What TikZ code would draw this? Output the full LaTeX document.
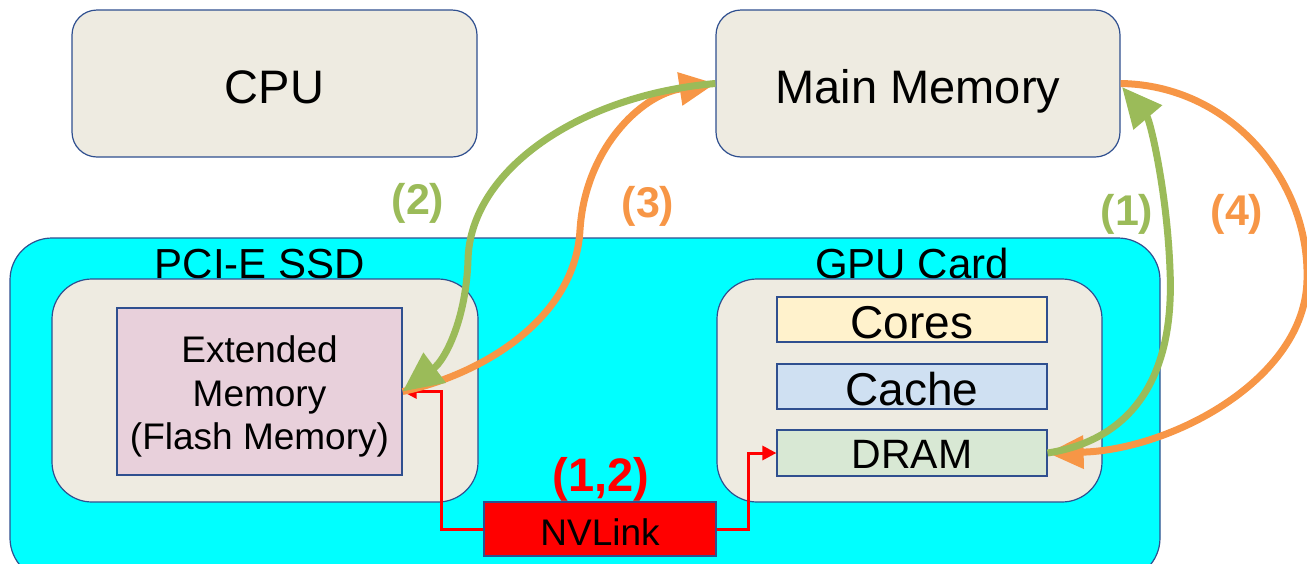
\documentclass[tikz,border=0pt]{standalone}
\usepackage{fontspec}
\setmainfont{Liberation Sans}
\usetikzlibrary{arrows.meta}
\definecolor{bord}{HTML}{2F4F8F}
\definecolor{beige}{HTML}{EEEBE1}
\definecolor{pinkm}{HTML}{E8D0DB}
\definecolor{coresc}{HTML}{FFF2CC}
\definecolor{cachec}{HTML}{CFE0F2}
\definecolor{dramc}{HTML}{D8E8D4}
\definecolor{grn}{HTML}{9BBB59}
\definecolor{org}{HTML}{F79646}
\definecolor{cyanc}{HTML}{00FFFF}
\begin{document}
\begin{tikzpicture}[x=1pt,y=-1pt,
  box/.style={draw=bord,line width=1.2pt,fill=beige,rounded corners=25pt,inner sep=0pt,font=\fontsize{47}{55}\selectfont,text height=39pt,text depth=0pt},
  inbox/.style={draw=bord,line width=1.2pt,fill=beige,rounded corners=40pt,inner sep=0pt},
  sqbox/.style={draw=bord,line width=1.2pt,inner sep=0pt,minimum width=270pt,minimum height=45pt,text depth=0pt},
  redc/.style={draw=red,line width=3pt,-{Triangle[length=14pt,width=14pt]}},
  garr/.style={draw=grn,line width=7pt,-{Triangle[length=40pt,width=36pt]}},
  oarr/.style={draw=org,line width=7pt,-{Triangle[length=36pt,width=32pt]}},
  lab/.style={font=\fontsize{43}{50}\selectfont\bfseries}
]
\useasboundingbox (0,0) rectangle (1307,563);
\node[box,minimum width=405pt,minimum height=147pt] (cpu) at (274.5,83.5) {CPU};
\node[box,minimum width=404pt,minimum height=147pt] (mm) at (918,83.5) {Main Memory};
\node[draw=bord,line width=1.2pt,fill=cyanc,rounded corners=42pt,minimum width=1150pt,minimum height=342pt,inner sep=0pt] (outer) at (585,409) {};
\node[font=\fontsize{42}{50}\selectfont,anchor=base] (ssdl) at (260,278) {PCI-E SSD};
\node[font=\fontsize{42}{50}\selectfont,anchor=base] (gpul) at (912,278) {GPU Card};
\node[inbox,minimum width=426pt,minimum height=223pt] (ssd) at (265,390.5) {};
\node[draw=bord,line width=1.2pt,fill=pinkm,minimum width=285pt,minimum height=167pt,inner sep=0pt] (ext) at (259.5,391.5) {};
\node[align=center,inner sep=0pt,font=\fontsize{37}{43.5}\selectfont] (extt) at (259.5,396.5) {Extended\\Memory\\(Flash Memory)};
\node[inbox,minimum width=385pt,minimum height=223pt] (gpu) at (909.5,390.5) {};
\node[sqbox,fill=coresc,font=\fontsize{46}{50}\selectfont,text height=37pt] (cores) at (912,319.5) {Cores};
\node[sqbox,fill=cachec,font=\fontsize{46}{50}\selectfont,text height=37pt] (cache) at (912,386.5) {Cache};
\node[sqbox,fill=dramc,minimum height=46pt,font=\fontsize{41}{50}\selectfont,text height=30pt] (dram) at (912,453) {DRAM};
\node[draw=bord,line width=1.2pt,fill=red,minimum width=232pt,minimum height=54pt,inner sep=0pt,font=\fontsize{37}{44}\selectfont,text height=32pt,text depth=0pt] (nv) at (600,529) {NVLink};
\node[lab,text=red,font=\fontsize{47}{55}\selectfont\bfseries] (l12) at (601,479) {(1,2)};
\draw[redc] (nv.west) -- ++(-42,0) |- (ext.east);
\draw[redc] (nv.east) -- ++(32,0) |- (dram.west);
% curved arrows
\draw[oarr] (ext.east) .. controls (480,375) and (575,320) .. (580,230) .. controls (585,150) and (640,95) .. (mm.west);
\draw[garr] (mm.west) .. controls (580,95) and (470,170) .. (468,260) .. controls (466,320) and (445,360) .. (ext.east);
\draw[oarr] (mm.east) .. controls (1230,85) and (1310,180) .. (1307,280) .. controls (1305,380) and (1170,450) .. (dram.east);
\draw[garr] (dram.east) .. controls (1130,440) and (1175,380) .. (1170,270) .. controls (1167,190) and (1150,120) .. (1122,87);
\node[lab,text=grn] (l2) at (418,203) {(2)};
\node[lab,text=org] (l3) at (648,206) {(3)};
\node[lab,text=grn] (l1) at (1127,214) {(1)};
\node[lab,text=org] (l4) at (1237,214) {(4)};
\end{tikzpicture}
\end{document}
